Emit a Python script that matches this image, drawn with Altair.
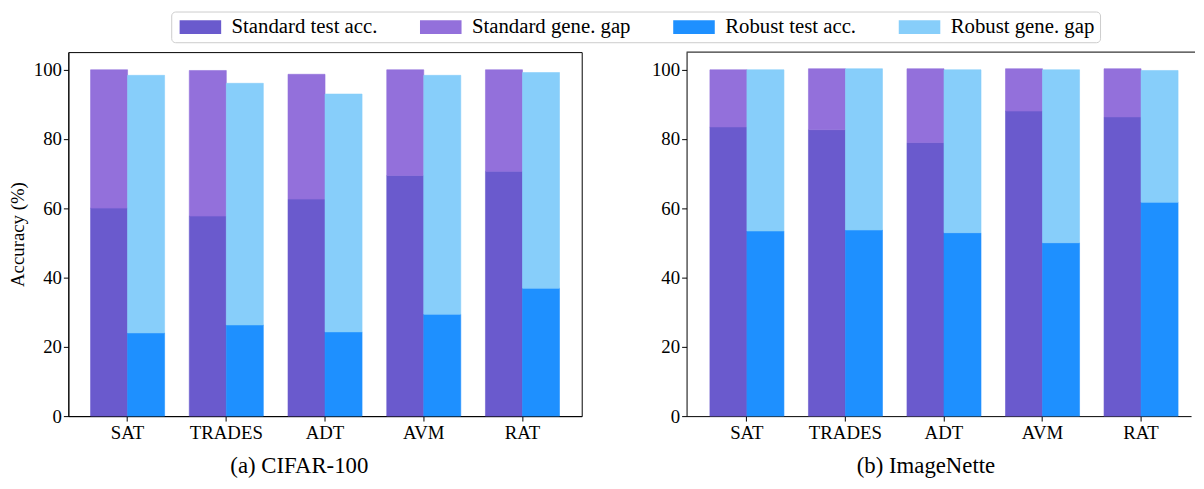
import altair as alt
import pandas as pd

methods = ["SAT", "TRADES", "ADT", "AVM", "RAT"]
series = ["Standard test acc.", "Standard gene. gap", "Robust test acc.", "Robust gene. gap"]
colors = ["#6A5ACD", "#9370DB", "#1E90FF", "#87CEFA"]

# (a) CIFAR-100
cifar_std_acc = [60.0, 57.7, 62.6, 69.4, 70.6]
cifar_std_gap = [39.9, 42.0, 36.0, 30.5, 29.3]
cifar_rob_acc = [24.0, 26.3, 24.3, 29.4, 36.9]
cifar_rob_gap = [74.3, 69.7, 68.6, 68.9, 62.2]

# (b) ImageNette
inet_std_acc = [83.4, 82.6, 78.9, 88.0, 86.3]
inet_std_gap = [16.5, 17.6, 21.3, 12.2, 13.9]
inet_rob_acc = [53.4, 53.7, 52.9, 50.0, 61.7]
inet_rob_gap = [46.5, 46.5, 47.0, 49.9, 38.0]

y_ticks = [0, 20, 40, 60, 80, 100]

FONT = "Liberation Serif"


def build_df(std_acc, std_gap, rob_acc, rob_gap):
    rows = []
    for i, m in enumerate(methods):
        rows.append(dict(method=m, group="Standard", series=series[0], lo=0.0, hi=std_acc[i]))
        rows.append(dict(method=m, group="Standard", series=series[1], lo=std_acc[i], hi=std_acc[i] + std_gap[i]))
        rows.append(dict(method=m, group="Robust", series=series[2], lo=0.0, hi=rob_acc[i]))
        rows.append(dict(method=m, group="Robust", series=series[3], lo=rob_acc[i], hi=rob_acc[i] + rob_gap[i]))
    return pd.DataFrame(rows)


legend = alt.Legend(
    title=None,
    orient="none",
    legendX=104,
    legendY=-41,
    direction="horizontal",
    symbolType="M-1,-1H5V1H-1Z",
    symbolSize=196,
    symbolStrokeWidth=0,
    symbolOpacity=1,
    labelFont=FONT,
    labelFontSize=21,
    labelColor="black",
    labelOffset=35,
    labelLimit=400,
    columnPadding=39,
    padding=5,
    strokeColor="#cccccc",
    fillColor="white",
    cornerRadius=4,
)


def panel(df, title, dx, pad_outer, align, ytitle):
    yaxis_kwargs = dict(
        values=y_ticks, grid=False, labelFont=FONT, labelFontSize=19, labelColor="black",
        tickColor="black", tickSize=5, domainColor="black", labelPadding=2,
    )
    if ytitle:
        yaxis_kwargs.update(title="Accuracy (%)", titleFont=FONT, titleFontSize=19,
                            titleFontWeight="normal", titleColor="black", titlePadding=6)
    else:
        yaxis_kwargs.update(title=None)
    bars = alt.Chart(df).mark_bar(strokeWidth=0.6).encode(
        x=alt.X("method:N", sort=methods,
                scale=alt.Scale(paddingInner=0.25, paddingOuter=pad_outer, align=align),
                axis=alt.Axis(title=None, labelAngle=0, labelFont=FONT, labelFontSize=19,
                              labelColor="black", tickColor="black", tickSize=5,
                              domainColor="black", labelPadding=3)),
        xOffset=alt.XOffset("group:N", sort=["Standard", "Robust"]),
        y=alt.Y("hi:Q", scale=alt.Scale(domain=[0, 105], nice=False), axis=alt.Axis(**yaxis_kwargs)),
        y2="lo:Q",
        color=alt.Color("series:N", scale=alt.Scale(domain=series, range=colors), legend=legend),
        stroke=alt.Stroke("series:N", scale=alt.Scale(domain=series, range=colors), legend=None),
    )
    return bars, alt.TitleParams(text=title, orient="bottom", font=FONT, fontSize=23,
                                 fontWeight="normal", color="black", dx=dx, offset=12)


left_bars, left_title = panel(build_df(cifar_std_acc, cifar_std_gap, cifar_rob_acc, cifar_rob_gap),
                              "(a) CIFAR-100", -26, 0.225, 0.5, True)
left = left_bars.properties(width=519, height=368, title=left_title,
                            view=alt.ViewBackground(stroke="black", strokeWidth=1))

right_bars, right_title = panel(build_df(inet_std_acc, inet_std_gap, inet_rob_acc, inet_rob_gap),
                                "(b) ImageNette", -13, 0.185, 0.64, False)
top_line = alt.Chart(pd.DataFrame({"k": [0]})).mark_rule(color="black", strokeWidth=1).encode(
    x=alt.value(0), x2=alt.value(514), y=alt.value(0)
)
right = alt.layer(right_bars, top_line).properties(width=510, height=368, title=right_title)

chart = alt.hconcat(left, right, spacing=69).properties(
    padding={"left": 0, "right": 0, "top": 0, "bottom": 0}
).configure_view(stroke="transparent")

chart.save("out.html", embed_options={"renderer": "svg", "actions": False})
